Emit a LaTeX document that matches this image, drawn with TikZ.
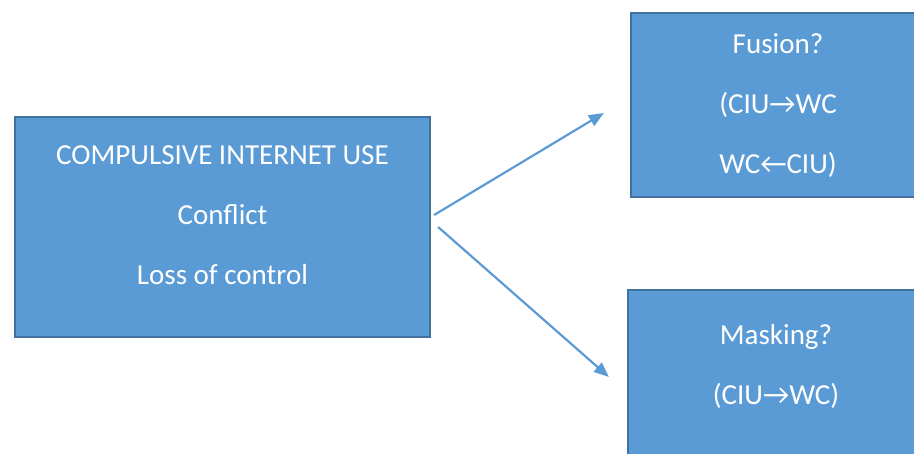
\documentclass[tikz,border=0pt]{standalone}
\usepackage{fontspec}
\setmainfont{Carlito}
\usetikzlibrary{arrows.meta,positioning}
\definecolor{boxfill}{HTML}{5B9BD5}
\definecolor{boxline}{HTML}{41719C}

\begin{document}
\begin{tikzpicture}[x=1pt,y=-1pt,
  box/.style={draw=boxline,line width=2.2pt,fill=boxfill,inner sep=0pt},
  boxtext/.style={text=white,align=center,inner sep=0pt,font=\fontsize{29}{60}\selectfont},
  link/.style={draw=boxfill,line width=2.2pt,-{Triangle[length=15pt,width=12pt]}}]
  \useasboundingbox (0,0) rectangle (914,454);

  % Boxes
  \node[box,minimum width=415pt,minimum height=220pt] (ciu) at (222.5,227) {};
  \node[box,minimum width=294pt,minimum height=184pt] (fusion) at (778,105) {};
  \node[box,minimum width=296pt,minimum height=200pt] (masking) at (776,390) {};

  % Texts
  \node[boxtext] (ciutext) at (222.5,215.5) {COMPULSIVE INTERNET USE\\Conflict\\Loss of control};
  \node[boxtext] (fusiontext) at (778,106) {Fusion?\\(CIU→WC\\WC←CIU)};
  \node[boxtext] (maskingtext) at (776,366) {Masking?\\(CIU→WC)};

  % Arrows
  \draw[link] ([shift={(3,-12)}]ciu.east) -- ([shift={(-26,8)}]fusion.west);
  \draw[link] ([shift={(7,0)}]ciu.east) -- ([shift={(-18,-13)}]masking.west);
\end{tikzpicture}
\end{document}
